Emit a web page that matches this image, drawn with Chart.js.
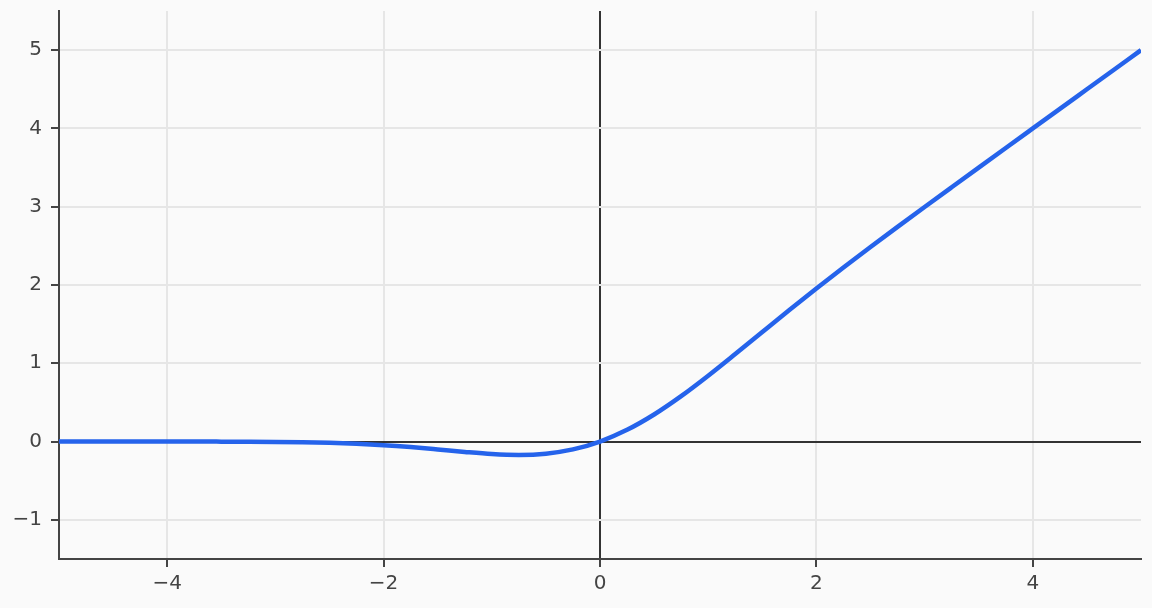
<!DOCTYPE html>
<html>
<head>
<meta charset="utf-8">
<script src="https://cdn.jsdelivr.net/npm/chart.js@4"></script>
<style>
  html, body { margin: 0; padding: 0; background: #fafafa; }
  #wrap { width: 1152px; height: 608px; }
</style>
</head>
<body>
<div id="wrap"><canvas id="chart" width="1152" height="608"></canvas></div>
<script>
const xValues = [-5, -4.75, -4.5, -4.25, -4, -3.75, -3.5, -3.25, -3, -2.75, -2.5, -2.25, -2, -1.75, -1.5, -1.25, -1, -0.75, -0.5, -0.25,
    0, 0.25, 0.5, 0.75, 1, 1.25, 1.5, 1.75, 2, 2.25, 2.5, 2.75, 3, 3.25, 3.5, 3.75, 4, 4.25, 4.5, 4.75, 5];
const yValues = [0, 0, 0, 0, -0.0001, -0.0003, -0.0008, -0.0019, -0.004, -0.0082, -0.0155, -0.0275, -0.0455, -0.0702, -0.1002, -0.132, -0.1587, -0.17, -0.1543, -0.1003,
    0, 0.1497, 0.3457, 0.58, 0.8413, 1.118, 1.3998, 1.6798, 1.9545, 2.2225, 2.4845, 2.7418, 2.996, 3.2481, 3.4992, 3.7497, 3.9999, 4.25, 4.5, 4.75, 5];
const xTicks = [-4, -2, 0, 2, 4];
const yTicks = [-1, 0, 1, 2, 3, 4, 5];

const fmt = v => (v < 0 ? '\u2212' + Math.abs(v) : String(v));
const gridColor = ctx => (ctx.tick && ctx.tick.value === 0 ? '#333333' : '#e6e6e6');

new Chart(document.getElementById('chart'), {
    type: 'line',
    data: {
        datasets: [{
            data: xValues.map((x, i) => ({ x: x, y: yValues[i] })),
            borderColor: '#2563eb',
            borderWidth: 4.5,
            pointRadius: 0,
            fill: false,
            cubicInterpolationMode: 'monotone'
        }]
    },
    options: {
        responsive: false,
        animation: false,
        layout: { padding: { top: 11, right: 11, left: 0, bottom: 0 } },
        plugins: {
            legend: { display: false },
            tooltip: { enabled: false }
        },
        scales: {
            x: {
                type: 'linear',
                min: -5,
                max: 5,
                afterBuildTicks: axis => { axis.ticks = xTicks.map(v => ({ value: v })); },
                afterFit: axis => { axis.height = 49; axis.paddingLeft = 0; axis.paddingRight = 0; },
                grid: { color: gridColor, lineWidth: 2, tickLength: 8, tickColor: '#444444' },
                border: { display: true, color: '#444444', width: 2 },
                ticks: {
                    callback: v => fmt(v),
                    color: '#444444',
                    padding: 5,
                    maxRotation: 0,
                    font: { family: 'DejaVu Sans', size: 20 }
                }
            },
            y: {
                type: 'linear',
                min: -1.5,
                max: 5.5,
                afterBuildTicks: axis => { axis.ticks = yTicks.map(v => ({ value: v })); },
                afterFit: axis => { axis.width = 59; axis.paddingTop = 0; axis.paddingBottom = 0; },
                grid: { color: gridColor, lineWidth: 2, tickLength: 8, tickColor: '#444444' },
                border: { display: true, color: '#444444', width: 2 },
                ticks: {
                    callback: v => fmt(v),
                    color: '#444444',
                    padding: 9,
                    font: { family: 'DejaVu Sans', size: 20 }
                }
            }
        }
    }
});
</script>
</body>
</html>
